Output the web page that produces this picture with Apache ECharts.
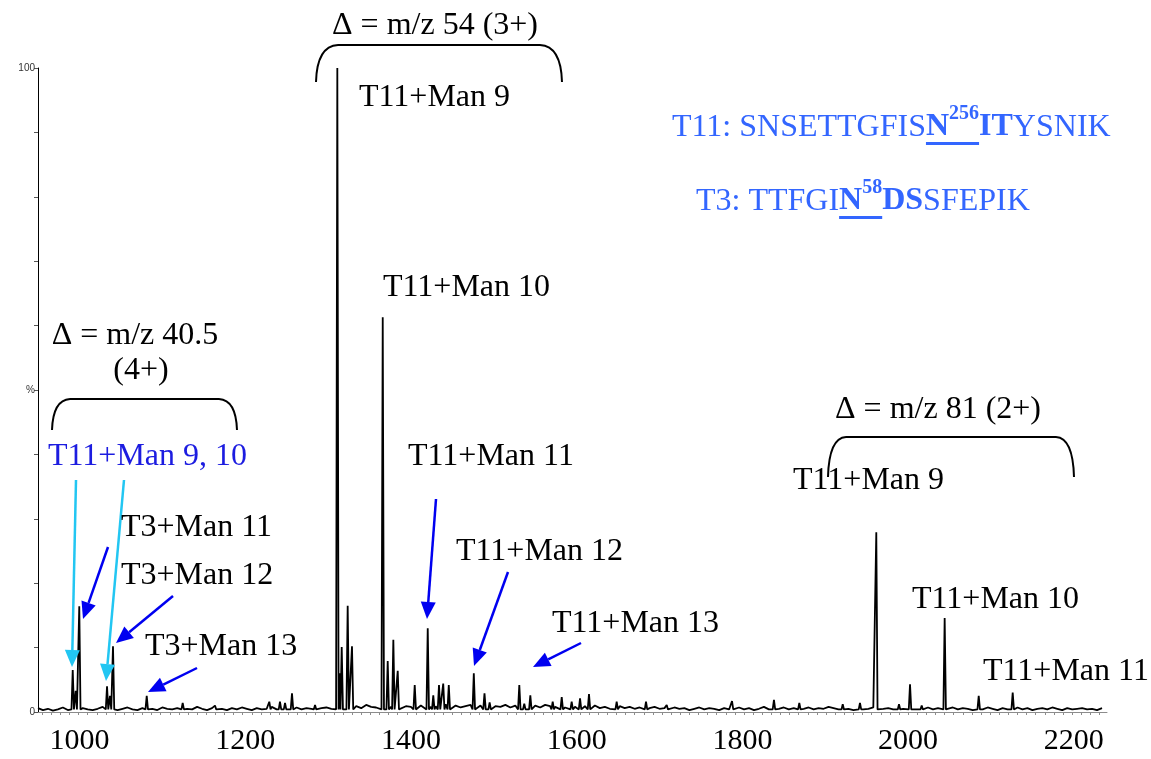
<!DOCTYPE html>
<html>
<head>
<meta charset="utf-8">
<script src="https://cdn.jsdelivr.net/npm/echarts@6/dist/echarts.min.js"></script>
<style>
  html, body { margin: 0; padding: 0; background: #ffffff; }
  #chart { width: 1151px; height: 759px; }
</style>
</head>
<body>
<div id="chart"></div>
<script>
// ---- spectrum data (m/z, relative intensity %) ----
const mzTickLabels = [1000, 1200, 1400, 1600, 1800, 2000, 2200];

const peakMz = [
  991.9, 995.5, 999.8, 1033.3, 1036.9, 1040.5, 1081.2, 1124.6, 1163.6,
  1229.1, 1242.0, 1248.1, 1256.5, 1284.3,
  1311.2, 1314.4, 1316.5, 1323.7, 1328.9,
  1366.0, 1372.0, 1378.8, 1384.1, 1404.6, 1420.3, 1427.0, 1433.9, 1439.0, 1445.7,
  1475.9, 1488.8, 1495.0, 1530.8, 1536.8, 1544.1, 1571.1, 1582.0, 1594.0, 1604.1, 1614.9,
  1648.3, 1683.7, 1708.7, 1787.5, 1838.1, 1868.7, 1921.1, 1941.9,
  1961.6, 1989.0, 2002.3, 2016.4, 2044.1, 2085.2, 2126.2
];
const peakIntensity = [
  6.5, 3.3, 16.4, 4.0, 2.5, 10.2, 2.5, 1.4, 1.0,
  1.6, 1.6, 1.4, 2.9, 1.1,
  100, 6.0, 10.1, 16.5, 10.2,
  61.3, 7.9, 11.2, 6.4, 4.2, 13.0, 2.6, 4.2, 4.4, 4.2,
  6.0, 2.9, 1.5, 4.2, 1.3, 2.6, 1.6, 2.3, 1.6, 2.1, 2.8,
  1.6, 1.6, 1.1, 1.7, 1.9, 1.4, 1.2, 1.4,
  27.9, 1.2, 4.3, 1.0, 14.6, 2.5, 3.0
];

// baseline noise, one reading every noiseStep m/z starting at noiseStart
const noiseStart = 950;
const noiseStep = 6;
const noiseLevel = [
  0.6,0.3,0.5,0.2,0.4,0.7,0.3,0.5,0.2,0.6,0.4,0.3,0.5,0.8,0.4,0.6,0.3,0.5,0.7,0.4,
  0.3,0.6,0.4,0.5,0.3,0.7,0.5,0.4,0.6,0.3,0.5,0.4,0.8,0.5,0.3,0.6,0.4,0.5,0.3,0.6,
  0.4,0.7,0.5,0.3,0.6,0.4,0.5,0.8,0.4,0.6,0.5,0.3,0.7,0.4,0.6,0.5,0.9,0.6,0.7,0.5,
  0.8,0.6,1.0,0.7,0.9,0.6,1.1,0.8,0.7,0.9,0.6,0.8,1.0,0.7,0.9,0.8,0.6,1.0,0.7,0.8,
  0.9,0.7,1.2,0.8,1.0,0.7,0.9,1.1,0.8,1.0,0.7,1.2,0.9,0.8,1.1,0.7,1.0,0.9,1.3,0.8,
  1.0,0.7,1.1,0.9,0.8,1.2,0.7,1.0,0.8,0.6,0.9,0.7,1.0,0.6,0.8,0.5,0.7,0.9,0.6,0.8,
  0.5,0.7,0.4,0.6,0.8,0.5,0.6,0.4,0.7,0.5,0.6,0.3,0.5,0.7,0.4,0.6,0.5,0.3,0.6,0.4,
  0.5,0.7,0.4,0.6,0.3,0.5,0.8,0.4,0.6,0.5,0.7,0.4,0.6,0.3,0.5,0.7,0.4,0.6,0.5,0.8,
  0.6,0.4,0.7,0.5,0.3,0.6,0.4,0.5,0.7,0.3,0.5,0.6,0.4,0.7,0.5,0.3,0.6,0.4,0.5,0.7,
  0.4,0.6,0.3,0.5,0.7,0.4,0.6,0.5,0.3,0.6,0.4,0.7,0.5,0.3,0.6,0.4,0.5,0.7,0.4,0.6,
  0.3,0.5,0.6,0.4,0.7,0.5,0.3,0.6,0.4,0.5,0.6,0.4,0.5,0.3,0.6
];

// ---- build the profile line: noise floor plus a narrow spike per peak ----
const halfWidth = 1.5;
const profile = [];
noiseLevel.forEach((v, i) => {
  const mz = noiseStart + i * noiseStep;
  if (!peakMz.some(p => Math.abs(p - mz) < halfWidth + 1)) profile.push([mz, v]);
});
peakMz.forEach((mz, i) => {
  profile.push([mz - halfWidth, 0.4], [mz, peakIntensity[i]], [mz + halfWidth, 0.4]);
});
profile.sort((a, b) => a[0] - b[0]);

// minor ticks along the m/z axis
const minorTicks = [];
for (let t = 955; t <= 2236; t += 11) minorTicks.push(t);

// ---- annotation helpers ----
const SERIF = '"Liberation Serif", "Times New Roman", serif';
const LABEL_SIZE = 32;

function label(str, x, baseline, opts) {
  opts = opts || {};
  const size = opts.size || LABEL_SIZE;
  return {
    type: 'text', z: 10,
    style: {
      text: str, x: x, y: baseline - 0.34 * size,
      font: (opts.bold ? 'bold ' : '') + size + 'px ' + SERIF,
      fill: opts.color || '#000000',
      textAlign: opts.align || 'left',
      verticalAlign: 'middle'
    }
  };
}

function arrow(x1, y1, x2, y2, color) {
  const hl = 17, hw = 7.5;
  const dx = x2 - x1, dy = y2 - y1, len = Math.hypot(dx, dy);
  const ux = dx / len, uy = dy / len;
  const bx = x2 - ux * hl, by = y2 - uy * hl, nx = -uy, ny = ux;
  return [
    { type: 'line', z: 9, shape: { x1: x1, y1: y1, x2: bx, y2: by },
      style: { stroke: color, lineWidth: 2.5 } },
    { type: 'polygon', z: 9,
      shape: { points: [[x2, y2], [bx + nx * hw, by + ny * hw], [bx - nx * hw, by - ny * hw]] },
      style: { fill: color } }
  ];
}

function bracket(xl, xr, top, bottom, r) {
  const st = { stroke: '#000000', lineWidth: 2, fill: null };
  return [
    { type: 'bezierCurve', z: 9, shape: { x1: xl, y1: bottom, cpx1: xl + 1, cpy1: top + 1, x2: xl + r, y2: top }, style: st },
    { type: 'line', z: 9, shape: { x1: xl + r, y1: top, x2: xr - r, y2: top }, style: st },
    { type: 'bezierCurve', z: 9, shape: { x1: xr - r, y1: top, cpx1: xr - 1, cpy1: top + 1, x2: xr, y2: bottom }, style: st }
  ];
}

// peptide sequence line with bold glycosite, superscript residue number and underline
const measureCtx = document.createElement('canvas').getContext('2d');
function sequence(parts, x, baseline, color) {
  const els = [];
  let cx = x, ulStart = null, ulEnd = null;
  parts.forEach(p => {
    const size = p.sup ? 20 : LABEL_SIZE;
    const font = (p.bold ? 'bold ' : '') + size + 'px ' + SERIF;
    measureCtx.font = font;
    const w = measureCtx.measureText(p.t).width;
    const bl = p.sup ? baseline - 17 : baseline;
    els.push({ type: 'text', z: 10,
      style: { text: p.t, x: cx, y: bl - 0.34 * size, font: font, fill: color,
               textAlign: 'left', verticalAlign: 'middle' } });
    if (p.u) { if (ulStart === null) ulStart = cx; ulEnd = cx + w; }
    cx += w;
  });
  if (ulStart !== null) {
    els.push({ type: 'rect', z: 10,
      shape: { x: ulStart, y: baseline + 4, width: ulEnd - ulStart, height: 3 },
      style: { fill: color } });
  }
  return els;
}

const BLUE = '#0000f0';
const CYAN = '#22c6f2';
const SEQ = '#3366ff';

const graphics = [].concat(
  // charge-state groups
  label('\u0394 = m/z 54 (3+)', 435, 36, { align: 'center' }),
  bracket(316, 562, 45, 82, 22),
  label('\u0394 = m/z 40.5', 135, 346, { align: 'center' }),
  label('(4+)', 141, 381, { align: 'center' }),
  bracket(52, 237, 399, 430, 18),
  label('\u0394 = m/z 81 (2+)', 938, 420, { align: 'center' }),
  bracket(828, 1074, 437, 477, 18),

  // glycoform labels
  label('T11+Man 9', 359, 108),
  label('T11+Man 10', 383, 298),
  label('T11+Man 9, 10', 48, 467, { color: '#1c1ce0' }),
  label('T11+Man 11', 408, 467),
  label('T11+Man 9', 793, 491),
  label('T3+Man 11', 121, 538),
  label('T3+Man 12', 121, 586),
  label('T11+Man 12', 456, 562),
  label('T11+Man 13', 552, 634),
  label('T3+Man 13', 145, 657),
  label('T11+Man 10', 912, 610),
  label('T11+Man 11', 983, 682),

  // arrows to the labelled peaks
  arrow(76, 480, 72, 667, CYAN),
  arrow(124, 480, 106, 681, CYAN),
  arrow(108, 547, 83, 619, BLUE),
  arrow(173, 596, 116, 643, BLUE),
  arrow(197, 668, 148, 692, BLUE),
  arrow(436, 499, 427, 619, BLUE),
  arrow(508, 572, 474, 666, BLUE),
  arrow(581, 643, 533, 667, BLUE),

  // peptide sequences
  sequence([
    { t: 'T11: SNSETTGFIS' },
    { t: 'N', bold: true, u: true },
    { t: '256', bold: true, sup: true, u: true },
    { t: 'IT', bold: true },
    { t: 'YSNIK' }
  ], 672, 138, SEQ),
  sequence([
    { t: 'T3: TTFGI' },
    { t: 'N', bold: true, u: true },
    { t: '58', bold: true, sup: true, u: true },
    { t: 'DS', bold: true },
    { t: 'SFEPIK' }
  ], 696, 212, SEQ)
);

const chart = echarts.init(document.getElementById('chart'), null, { renderer: 'canvas' });
chart.setOption({
  animation: false,
  backgroundColor: '#ffffff',
  grid: { left: 38, right: 44, top: 68, bottom: 47, containLabel: false, outerBoundsMode: 'none' },
  xAxis: {
    type: 'value', min: 950, max: 2240,
    axisLine: { show: true, onZero: false, lineStyle: { color: '#8c8c8c', width: 1 } },
    axisTick: { show: true, customValues: minorTicks, length: 3, inside: false,
                lineStyle: { color: '#8c8c8c', width: 1 } },
    axisLabel: { show: true, customValues: mzTickLabels, fontSize: 30, fontFamily: SERIF,
                 color: '#000000', margin: 14, formatter: v => String(v) },
    splitLine: { show: false }
  },
  yAxis: {
    type: 'value', min: 0, max: 100, interval: 10,
    axisLine: { show: true, lineStyle: { color: '#000000', width: 1 } },
    axisTick: { show: true, length: 4, lineStyle: { color: '#555555', width: 1 } },
    axisLabel: {
      show: true, fontSize: 10, fontFamily: 'Arial, "Liberation Sans", sans-serif', color: '#333333', margin: 3,
      formatter: v => (v === 100 ? '100' : v === 50 ? '%' : v === 0 ? '0' : '')
    },
    splitLine: { show: false }
  },
  series: [{
    type: 'line',
    data: profile,
    showSymbol: false,
    symbol: 'none',
    lineStyle: { color: '#000000', width: 1.8 },
    sampling: null,
    z: 5
  }],
  graphic: graphics
});
</script>
</body>
</html>
